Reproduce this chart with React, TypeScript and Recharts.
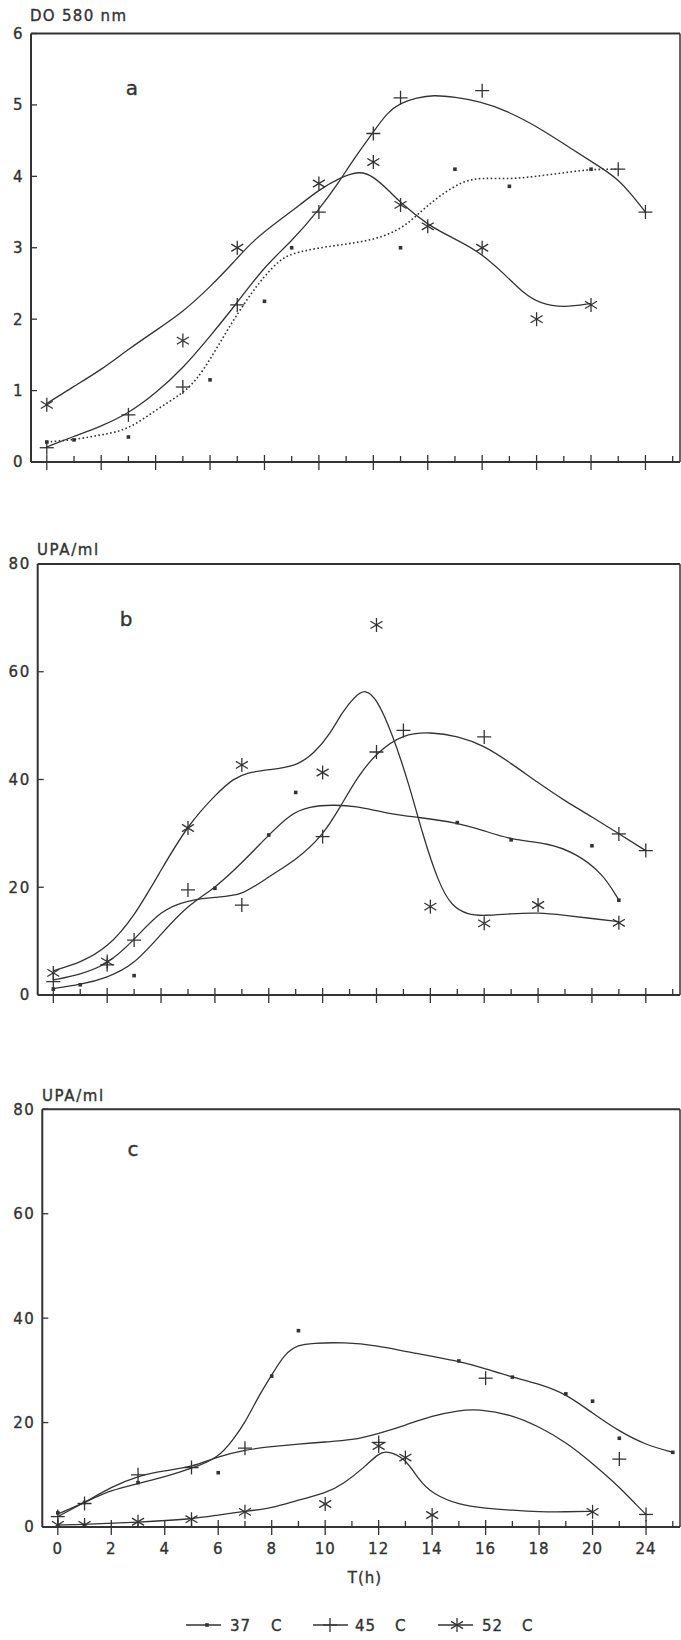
import { ComposedChart, Line, Scatter, XAxis, YAxis, ReferenceLine } from "recharts";

type Pt = [number, number];

const INK = "#333333";
const FONT = "'DejaVu Sans', Verdana, sans-serif";

// time axis: one tick per hour, labels on the even ones (last one printed as 24)
const X_MIN = -0.58;
const X_MAX = 23.27;
const hourTicks = [0, 1, 2, 3, 4, 5, 6, 7, 8, 9, 10, 11, 12, 13, 14, 15, 16, 17, 18, 19, 20, 21, 22, 23];
const labelHours = [0, 2, 4, 6, 8, 10, 12, 14, 16, 18, 20, 22];
const labelTexts = ["0", "2", "4", "6", "8", "10", "12", "14", "16", "18", "20", "24"];

const odTicks = [0, 1, 2, 3, 4, 5, 6];
const upaTicks = [0, 20, 40, 60, 80];

// a: DO 580 nm, measured points [h, value]
const odPts37: Pt[] = [[0, 0.28], [1, 0.31], [3, 0.35], [6, 1.15], [8, 2.25], [9, 3.0], [13, 3.0], [15, 4.1], [17, 3.86], [20, 4.1]];
const odPts45: Pt[] = [[0, 0.2], [3, 0.66], [5, 1.05], [7, 2.2], [10, 3.5], [12, 4.6], [13, 5.1], [16, 5.2], [21, 4.1], [22, 3.5]];
const odPts52: Pt[] = [[0, 0.8], [5, 1.7], [7, 3.0], [10, 3.9], [12, 4.2], [13, 3.6], [14, 3.3], [16, 3.0], [18, 2.0], [20, 2.2]];
// a: fitted curves
const odFit37: Pt[] = [[0, 0.28], [1, 0.31], [2, 0.38], [3, 0.45], [4, 0.73], [5, 0.96], [5.5, 1.15], [6, 1.43], [6.85, 1.99], [7.6, 2.41], [8, 2.6], [8.56, 2.83], [9, 2.92], [10, 3.0], [11, 3.05], [12, 3.11], [13, 3.25], [13.7, 3.49], [14.4, 3.72], [15.3, 3.94], [16, 3.98], [17, 3.96], [18, 4.0], [19, 4.05], [20, 4.1], [21, 4.1]];
const odFit45: Pt[] = [[0, 0.21], [1, 0.36], [2, 0.5], [3, 0.68], [4, 0.96], [5, 1.31], [6, 1.76], [7, 2.23], [8, 2.74], [9, 3.09], [10, 3.53], [10.76, 3.93], [11.2, 4.2], [12, 4.62], [12.5, 4.89], [13, 5.03], [13.6, 5.1], [14.2, 5.14], [15, 5.11], [15.9, 5.05], [16.9, 4.92], [18.1, 4.68], [19.3, 4.38], [20.3, 4.14], [21, 3.96], [21.5, 3.74], [22, 3.5]];
const odFit52: Pt[] = [[0, 0.82], [1, 1.06], [2, 1.29], [3, 1.58], [4, 1.84], [5, 2.1], [6, 2.45], [6.85, 2.79], [7.6, 3.11], [8.56, 3.39], [9.3, 3.6], [10, 3.81], [10.76, 3.98], [11.5, 4.08], [12, 4.0], [12.6, 3.79], [13, 3.63], [14, 3.32], [14.8, 3.16], [15.9, 2.95], [16.9, 2.6], [17.5, 2.37], [18.1, 2.22], [19, 2.16], [20, 2.22]];

// b: UPA/ml
const bPts37: Pt[] = [[0, 1.1], [1, 1.9], [3, 3.6], [6, 19.8], [8, 29.7], [9, 37.6], [15, 32.0], [17, 28.8], [20, 27.7], [21, 17.6]];
const bPts45: Pt[] = [[0, 2.5], [2, 5.6], [3, 10.2], [5, 19.5], [7, 16.7], [10, 29.4], [12, 45.1], [13, 49.1], [16, 47.9], [21, 29.9], [22, 26.8]];
const bPts52: Pt[] = [[0, 4.1], [2, 6.2], [5, 31.0], [7, 42.7], [10, 41.3], [12, 68.7], [14, 16.4], [16, 13.3], [18, 16.7], [21, 13.4]];
const bFit37: Pt[] = [[0, 1.2], [1, 1.9], [2, 3.2], [3, 5.6], [4, 11.3], [5, 16.7], [6, 19.8], [7, 24.5], [8, 29.7], [8.8, 33.6], [9.5, 35.0], [10.4, 35.3], [11.2, 35.1], [12.4, 33.7], [13.5, 33.0], [15, 32.0], [16, 30.5], [17, 28.8], [18.4, 28.2], [19.4, 26.3], [20.4, 22.6], [21, 17.6]];
const bFit45: Pt[] = [[0, 2.8], [1, 3.8], [2, 5.6], [3, 10.2], [4, 15.8], [5, 17.6], [6, 18.2], [7, 18.4], [8, 22.0], [9, 25.0], [10, 29.5], [10.7, 35.3], [11.3, 40.5], [12, 45.0], [13, 48.5], [14, 48.8], [15, 48.1], [16, 46.3], [17, 43.0], [18, 39.4], [19, 36.0], [20, 33.1], [21, 29.9], [22, 26.8]];
const bFit52: Pt[] = [[0, 4.5], [1, 6.0], [2, 8.7], [3, 14.5], [4, 23.2], [5, 31.6], [6.08, 37.5], [6.7, 40.2], [7.2, 41.3], [8, 41.8], [9, 42.4], [9.7, 44.9], [10.3, 48.6], [10.7, 52.3], [11.2, 55.5], [11.6, 56.8], [12, 55.0], [12.55, 49.0], [13.2, 39.3], [13.7, 30.0], [14.3, 20.8], [14.8, 16.4], [15.4, 14.9], [16, 14.7], [17, 15.1], [18, 15.3], [19, 14.8], [20, 14.2], [21, 13.6]];

// c: UPA/ml
const cPts37: Pt[] = [[0, 2.7], [1, 4.7], [3, 8.5], [6, 10.4], [8, 28.9], [9, 37.6], [15, 31.8], [17, 28.7], [19, 25.5], [20, 24.1], [21, 17.0], [23, 14.3]];
const cPts45: Pt[] = [[0, 2.0], [1, 4.5], [3, 10.0], [5, 11.4], [7, 15.1], [12, 16.2], [16, 28.5], [21, 13.0], [22, 2.4]];
const cPts52: Pt[] = [[0, 0.4], [1, 0.4], [3, 1.0], [5, 1.5], [7, 2.9], [10, 4.4], [12, 15.5], [13, 13.3], [14, 2.3], [20, 2.9]];
const cFit37: Pt[] = [[0, 2.5], [1, 4.7], [2, 7.1], [3, 8.3], [4, 9.6], [5, 11.2], [6, 13.2], [6.55, 16.7], [7, 19.9], [7.5, 25.0], [8, 29.1], [8.5, 33.3], [9, 34.9], [9.5, 35.2], [10.7, 35.4], [12, 34.7], [13, 33.6], [15, 31.8], [16, 30.3], [17, 28.7], [18, 27.4], [19, 25.5], [20, 21.8], [21, 18.3], [22, 15.7], [23, 14.3]];
const cFit45: Pt[] = [[0, 2.0], [1, 4.7], [2, 7.7], [3, 9.8], [4, 10.8], [5, 11.5], [6, 13.5], [7, 14.8], [8, 15.4], [9, 15.9], [10, 16.3], [11, 16.6], [12, 17.9], [13, 19.5], [14, 21.3], [15, 22.3], [15.7, 22.6], [17, 21.5], [18, 19.2], [19, 16.3], [20, 12.2], [21, 7.7], [21.7, 3.9], [22, 2.4]];
const cFit52: Pt[] = [[0, 0.4], [1, 0.5], [3, 0.9], [5, 1.5], [6, 2.3], [7, 3.0], [8, 3.6], [9, 5.2], [10, 6.4], [10.7, 8.3], [11.5, 11.6], [12, 14.1], [12.3, 14.6], [13, 13.2], [13.5, 9.0], [14, 6.4], [15, 4.2], [16, 3.6], [17, 3.2], [18, 2.9], [19, 2.9], [20, 3.0]];

const rows = (pts: Pt[]) => pts.map(([x, y]) => ({ x, y }));

// point symbols
const DotMark = ({ cx, cy }: any) => <rect x={cx - 1.8} y={cy - 1.8} width={3.6} height={3.6} fill={INK} />;

const PlusMark = ({ cx, cy }: any) => (
  <g stroke={INK} strokeWidth={1.3}>
    <line x1={cx - 7} x2={cx + 7} y1={cy} y2={cy} />
    <line x1={cx} x2={cx} y1={cy - 7} y2={cy + 7} />
  </g>
);

const StarMark = ({ cx, cy }: any) => (
  <g stroke={INK} strokeWidth={1.3}>
    <line x1={cx} x2={cx} y1={cy - 7} y2={cy + 7} />
    <line x1={cx - 6} x2={cx + 6} y1={cy - 3.6} y2={cy + 3.6} />
    <line x1={cx - 6} x2={cx + 6} y1={cy + 3.6} y2={cy - 3.6} />
  </g>
);

const textStyle = { fontFamily: FONT, fill: INK, stroke: INK, strokeWidth: 0.35 };

const HourTick = ({ x, y, payload, showLabel }: any) => {
  const h = payload.value;
  const major = h % 2 === 0;
  const idx = labelHours.indexOf(h);
  return (
    <g>
      <line x1={x} x2={x} y1={y - (major ? 7 : 6)} y2={y + (major ? 8 : 1)} stroke={INK} strokeWidth={1.3} />
      {showLabel && idx >= 0 && (
        <text x={x} y={y + 27} textAnchor="middle" fontSize={15} letterSpacing={1} {...textStyle}>
          {labelTexts[idx]}
        </text>
      )}
    </g>
  );
};

const ValueTick = ({ x, y, payload }: any) => (
  <g>
    <line x1={x} x2={x + 6} y1={y} y2={y} stroke={INK} strokeWidth={1.3} />
    <text x={x - 7} y={y} dy="0.36em" textAnchor="end" fontSize={15} letterSpacing={1.5} {...textStyle}>
      {payload.value}
    </text>
  </g>
);

type PanelProps = {
  top: number;
  height: number;
  plotTop: number;
  plotBottom: number;
  plotLeft: number;
  yMax: number;
  yTicks: number[];
  pts37: Pt[];
  pts45: Pt[];
  pts52: Pt[];
  fit37: Pt[];
  fit45: Pt[];
  fit52: Pt[];
  dotted37?: boolean;
  showLabels?: boolean;
};

function Panel(p: PanelProps) {
  const curve = { type: "basis" as const, dataKey: "y", stroke: INK, strokeWidth: 1.3, dot: false, activeDot: false, isAnimationActive: false };
  return (
    <div style={{ position: "absolute", left: 0, top: p.top, width: 681, height: p.height }}>
      <ComposedChart width={681} height={p.height} margin={{ top: p.plotTop - p.top, right: 1, bottom: 0, left: 0 }}>
        <XAxis
          type="number"
          dataKey="x"
          domain={[X_MIN, X_MAX]}
          allowDataOverflow
          ticks={hourTicks}
          interval={0}
          height={p.top + p.height - p.plotBottom}
          tickSize={0}
          tickMargin={0}
          tickLine={false}
          axisLine={{ stroke: INK, strokeWidth: 2 }}
          tick={(t: any) => <HourTick {...t} showLabel={p.showLabels} />}
        />
        <YAxis
          type="number"
          domain={[0, p.yMax]}
          allowDataOverflow
          ticks={p.yTicks}
          interval={0}
          width={p.plotLeft}
          tickSize={0}
          tickMargin={0}
          tickLine={false}
          axisLine={{ stroke: INK, strokeWidth: 2 }}
          tick={(t: any) => <ValueTick {...t} />}
        />
        <ReferenceLine y={p.yMax} stroke={INK} strokeWidth={2} ifOverflow="visible" />
        <ReferenceLine x={X_MAX} stroke={INK} strokeWidth={1.5} ifOverflow="visible" />
        <Line {...curve} data={rows(p.fit37)} strokeDasharray={p.dotted37 ? "1.6 2.4" : undefined} strokeWidth={p.dotted37 ? 1.6 : 1.3} />
        <Line {...curve} data={rows(p.fit45)} />
        <Line {...curve} data={rows(p.fit52)} />
        <Scatter data={rows(p.pts37)} dataKey="y" isAnimationActive={false} shape={(s: any) => <DotMark cx={s.cx} cy={s.cy} />} />
        <Scatter data={rows(p.pts45)} dataKey="y" isAnimationActive={false} shape={(s: any) => <PlusMark cx={s.cx} cy={s.cy} />} />
        <Scatter data={rows(p.pts52)} dataKey="y" isAnimationActive={false} shape={(s: any) => <StarMark cx={s.cx} cy={s.cy} />} />
      </ComposedChart>
    </div>
  );
}

export default function App() {
  return (
    <div style={{ position: "absolute", left: 0, top: 0, width: 681, height: 1640, background: "#fff" }}>
      <Panel top={0} height={480} plotTop={33.5} plotBottom={462} plotLeft={31} yMax={6} yTicks={odTicks}
        pts37={odPts37} pts45={odPts45} pts52={odPts52} fit37={odFit37} fit45={odFit45} fit52={odFit52} dotted37 />
      <Panel top={500} height={520} plotTop={564} plotBottom={995} plotLeft={37.7} yMax={80} yTicks={upaTicks}
        pts37={bPts37} pts45={bPts45} pts52={bPts52} fit37={bFit37} fit45={bFit45} fit52={bFit52} />
      <Panel top={1080} height={500} plotTop={1109.3} plotBottom={1527} plotLeft={42.3} yMax={80} yTicks={upaTicks}
        pts37={cPts37} pts45={cPts45} pts52={cPts52} fit37={cFit37} fit45={cFit45} fit52={cFit52} showLabels />

      <svg width={681} height={1640} style={{ position: "absolute", left: 0, top: 0, pointerEvents: "none" }}>
        <text x={30} y={21} fontSize={15} letterSpacing={1.3} {...textStyle}>DO 580 nm</text>
        <text x={37} y={555} fontSize={15} letterSpacing={1.6} {...textStyle}>UPA/ml</text>
        <text x={42} y={1101} fontSize={15} letterSpacing={1.6} {...textStyle}>UPA/ml</text>

        <text x={132} y={95} textAnchor="middle" fontSize={20} {...textStyle}>a</text>
        <text x={126} y={626} textAnchor="middle" fontSize={20} {...textStyle}>b</text>
        <text x={133} y={1156} textAnchor="middle" fontSize={20} {...textStyle}>c</text>

        <text x={365} y={1583} textAnchor="middle" fontSize={15} letterSpacing={1} {...textStyle}>T(h)</text>

        <g>
          <line x1={186} x2={221} y1={1625} y2={1625} stroke={INK} strokeWidth={1.3} />
          <DotMark cx={207} cy={1625} />
          <text x={230} y={1630.5} fontSize={15} letterSpacing={1} {...textStyle}>37</text>
          <text x={271} y={1630.5} fontSize={15} {...textStyle}>C</text>

          <line x1={313} x2={348} y1={1625} y2={1625} stroke={INK} strokeWidth={1.3} />
          <PlusMark cx={330} cy={1625} />
          <text x={355} y={1630.5} fontSize={15} letterSpacing={1} {...textStyle}>45</text>
          <text x={395} y={1630.5} fontSize={15} {...textStyle}>C</text>

          <line x1={438} x2={473} y1={1625} y2={1625} stroke={INK} strokeWidth={1.3} />
          <StarMark cx={457} cy={1625} />
          <text x={482} y={1630.5} fontSize={15} letterSpacing={1} {...textStyle}>52</text>
          <text x={522} y={1630.5} fontSize={15} {...textStyle}>C</text>
        </g>
      </svg>
    </div>
  );
}
